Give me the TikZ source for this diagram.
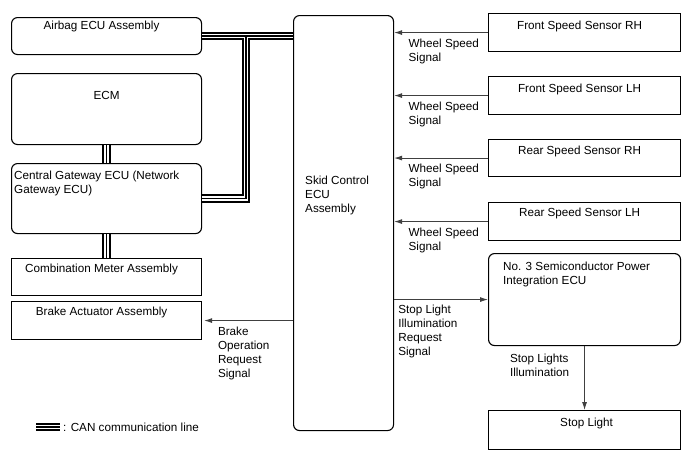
\documentclass[tikz,border=0pt]{standalone}
\usepackage{fontspec}
\setmainfont{Liberation Sans}
\usetikzlibrary{arrows.meta,positioning}

\begin{document}
\begin{tikzpicture}[x=1pt, y=-1pt,
  every node/.append style={font=\fontsize{11.7}{14}\selectfont},
  box/.style={draw, line width=1.1pt, inner sep=0, anchor=north west, minimum width=190pt},
  rbox/.style={box, rounded corners=6pt},
  lbl/.style={inner sep=0, anchor=north, xshift=-5pt, align=center},
  lblleft/.style={inner sep=0, anchor=north west, align=left},
  sig/.style={draw=black!75, line width=0.9pt, -{Latex[length=8pt,width=5pt]}},
  sigtext/.style={inner sep=0, align=left, anchor=north west},
  can/.style={line width=8.5pt, postaction={draw, white, line width=4.5pt}, postaction={draw, black, line width=1.6pt}}]
  \useasboundingbox (0,0) rectangle (688,463);

  % left column
  \node[rbox, minimum height=37pt, label={[lbl, yshift=-4pt]north:Airbag ECU Assembly}] (airbag) at (11,17) {};
  \node[rbox, minimum height=71pt, label={[lbl, xshift=5pt, yshift=-18pt]north:ECM}] (ecm) at (11,73) {};
  \node[rbox, minimum height=70pt, label={[lblleft, xshift=3pt, yshift=-8pt]north west:Central Gateway ECU (Network\\Gateway ECU)}] (gateway) at (11,163) {};
  \node[box, minimum height=37pt, label={[lbl, yshift=-6pt]north:Combination Meter Assembly}] (combo) at (11,258) {};
  \node[box, minimum height=38pt, label={[lbl, yshift=-6pt]north:Brake Actuator Assembly}] (brake) at (11,301) {};

  % skid control
  \node[rbox, minimum width=100pt, minimum height=415pt, label={[lblleft, xshift=12pt, yshift=-161pt]north west:Skid Control\\ECU\\Assembly}] (skid) at (293,15) {};

  % right column
  \node[box, minimum width=192pt, minimum height=38pt, label={[lbl, yshift=-8pt]north:Front Speed Sensor RH}] (frh) at (488,13) {};
  \node[box, minimum width=192pt, minimum height=38pt, label={[lbl, yshift=-8pt]north:Front Speed Sensor LH}] (flh) at (488,76) {};
  \node[box, minimum width=192pt, minimum height=37pt, label={[lbl, yshift=-7pt]north:Rear Speed Sensor RH}] (rrh) at (488,139) {};
  \node[box, minimum width=192pt, minimum height=38pt, label={[lbl, yshift=-6pt]north:Rear Speed Sensor LH}] (rlh) at (488,202) {};
  \node[rbox, minimum width=192pt, minimum height=92pt, label={[lblleft, xshift=15pt, yshift=-9pt]north west:No. 3 Semiconductor Power\\Integration ECU}] (semi) at (488,253) {};
  \node[box, minimum width=192pt, minimum height=39pt, label={[lbl, xshift=7pt, yshift=-8pt]north:Stop Light}] (stop) at (488,410) {};

  % CAN lines
  \coordinate (canx) at (246,0);
  \draw[can] (airbag.east) -- (airbag.east -| skid.west)
    (gateway.east) -| (canx |- airbag.east);
  \draw[can] (ecm.south) -- (gateway.north);
  \draw[can] (gateway.south) -- (combo.north);

  % signals
  \draw[sig] (frh.west) -- node[sigtext, pos=0.85, yshift=-6pt] {Wheel Speed\\Signal} (frh.west -| skid.east);
  \draw[sig] (flh.west) -- node[sigtext, pos=0.85, yshift=-6pt] {Wheel Speed\\Signal} (flh.west -| skid.east);
  \draw[sig] (rrh.west) -- node[sigtext, pos=0.85, yshift=-6pt] {Wheel Speed\\Signal} (rrh.west -| skid.east);
  \draw[sig] (rlh.west) -- node[sigtext, pos=0.85, yshift=-6pt] {Wheel Speed\\Signal} (rlh.west -| skid.east);
  \draw[sig, shorten >=2pt] (skid.west |- brake.east) -- node[sigtext, pos=0.83, yshift=-6pt] {Brake\\Operation\\Request\\Signal} (brake.east);
  \draw[sig] (skid.east |- semi.west) -- node[sigtext, pos=0.04, yshift=-5pt] {Stop Light\\Illumination\\Request\\Signal} (semi.west);
  \draw[sig] (semi.south) -- node[sigtext, pos=0, anchor=north west, xshift=-75pt, yshift=-7pt] {Stop Lights\\Illumination} (stop.north);

  % legend
  \coordinate (legA) at (36,427);
  \coordinate (legB) at (60,427);
  \draw[can] (legA) -- (legB);
  \node[anchor=west, inner sep=0, xshift=3pt] (legtext) at (legB) {: CAN communication line};
\end{tikzpicture}
\end{document}
